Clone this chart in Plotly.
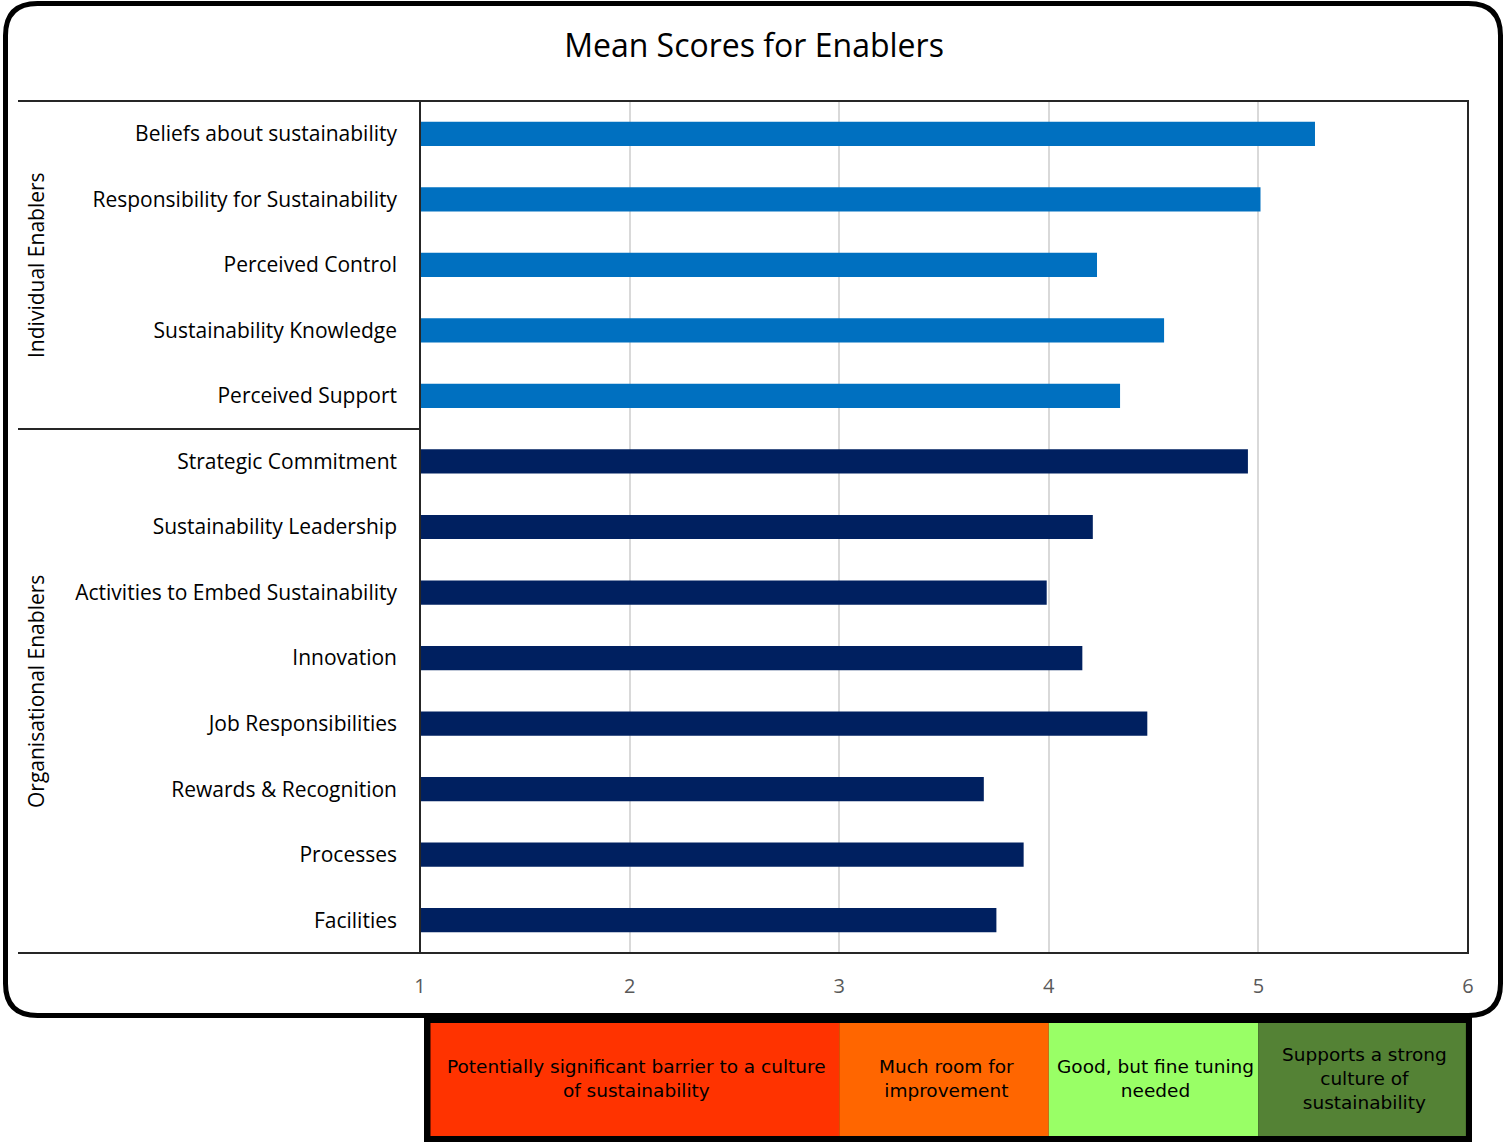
import plotly.graph_objects as go

# ---------------- data ----------------
categories = [
    "Beliefs about sustainability",
    "Responsibility for Sustainability",
    "Perceived Control",
    "Sustainability Knowledge",
    "Perceived Support",
    "Strategic Commitment",
    "Sustainability Leadership",
    "Activities to Embed Sustainability",
    "Innovation",
    "Job Responsibilities",
    "Rewards & Recognition",
    "Processes",
    "Facilities",
]
scores = [5.27, 5.01, 4.23, 4.55, 4.34, 4.95, 4.21, 3.99, 4.16, 4.47, 3.69, 3.88, 3.75]
groups = ["Individual Enablers"] * 5 + ["Organisational Enablers"] * 8
group_names = ["Individual Enablers", "Organisational Enablers"]
group_colors = {"Individual Enablers": "#0070C0", "Organisational Enablers": "#002060"}

x_ticks = [1, 2, 3, 4, 5, 6]

band_starts = [1, 3, 4, 5]
band_ends = [3, 4, 5, 6]
band_labels = [
    "Potentially significant barrier to a culture<br>of sustainability",
    "Much room for<br>improvement",
    "Good, but fine tuning<br>needed",
    "Supports a strong<br>culture of<br>sustainability",
]
band_colors = ["#FF3300", "#FF6600", "#99FF66", "#548235"]

# ---------------- layout geometry ----------------
W, H = 1504, 1143
L, R, T, B = 420, 1468, 101, 953
PW, PH = R - L, B - T


def px(xp):
    return (xp - L) / PW


def py(yp):
    return (B - yp) / PH


FONT = "Open Sans"

fig = go.Figure()
for g in group_names:
    idx = [i for i, gg in enumerate(groups) if gg == g]
    fig.add_trace(go.Bar(
        y=[categories[i] for i in idx],
        x=[scores[i] - 1 for i in idx],
        base=1,
        orientation="h",
        marker=dict(color=group_colors[g], line=dict(width=0)),
        name=g,
        showlegend=False,
        hoverinfo="skip",
    ))

shapes = []
annotations = []

# outer rounded border
x0, y0, x1, y1, r = 5.5, 3.5, 1500.5, 1015.5, 32
path = (
    f"M {px(x0 + r)},{py(y0)} L {px(x1 - r)},{py(y0)} "
    f"Q {px(x1)},{py(y0)} {px(x1)},{py(y0 + r)} "
    f"L {px(x1)},{py(y1 - r)} Q {px(x1)},{py(y1)} {px(x1 - r)},{py(y1)} "
    f"L {px(x0 + r)},{py(y1)} Q {px(x0)},{py(y1)} {px(x0)},{py(y1 - r)} "
    f"L {px(x0)},{py(y0 + r)} Q {px(x0)},{py(y0)} {px(x0 + r)},{py(y0)} Z"
)
shapes.append(dict(type="path", xref="paper", yref="paper", path=path,
                   line=dict(color="black", width=5), layer="below"))

# plot frame
shapes.append(dict(type="rect", xref="paper", yref="paper", x0=0, y0=0, x1=1, y1=1,
                   line=dict(color="#262626", width=2), layer="above"))

# group divider lines on the left
for yp in [T, 429, B]:
    shapes.append(dict(type="line", xref="paper", yref="paper",
                       x0=px(18), x1=0, y0=py(yp), y1=py(yp),
                       line=dict(color="#262626", width=2)))

# group labels
annotations.append(dict(text="Individual Enablers", xref="paper", yref="paper",
                        x=px(36), y=py(265), textangle=-90, showarrow=False,
                        font=dict(family=FONT, size=21, color="black"),
                        xanchor="center", yanchor="middle"))
annotations.append(dict(text="Organisational Enablers", xref="paper", yref="paper",
                        x=px(36), y=py(692), textangle=-90, showarrow=False,
                        font=dict(family=FONT, size=21, color="black"),
                        xanchor="center", yanchor="middle"))

# legend band
lb_y0, lb_y1 = 1023, 1136
shapes.append(dict(type="rect", xref="paper", yref="paper",
                   x0=px(427), x1=px(1469), y0=py(1139), y1=py(1020),
                   line=dict(color="black", width=6), fillcolor="black", layer="above"))
for s, e, c, lab in zip(band_starts, band_ends, band_colors, band_labels):
    bx0 = s + (0.05 if s == 1 else 0)
    bx1 = e - (0.01 if e == 6 else 0)
    shapes.append(dict(type="rect", xref="x", yref="paper",
                       x0=bx0, x1=bx1,
                       y0=py(lb_y1), y1=py(lb_y0),
                       line=dict(width=0), fillcolor=c, layer="above"))
    annotations.append(dict(text=lab, xref="x", yref="paper",
                            x=(bx0 + bx1) / 2 + 0.01, y=py((lb_y0 + lb_y1) / 2 - 1),
                            showarrow=False,
                            font=dict(family="DejaVu Sans", size=18.5, color="black"),
                            xanchor="center", yanchor="middle", align="center"))

fig.update_layout(
    width=W, height=H,
    margin=dict(l=L, r=W - R, t=T, b=H - B),
    paper_bgcolor="white", plot_bgcolor="white",
    title=dict(text="Mean Scores for Enablers", x=754 / W, xref="container",
               y=1 - 46 / H, yref="container",
               yanchor="middle", xanchor="center",
               font=dict(family=FONT, size=32, color="black")),
    bargap=0.63,
    xaxis=dict(range=[1, 6], tickvals=x_ticks, ticktext=[str(t) for t in x_ticks],
               showgrid=True, gridcolor="#D9D9D9", gridwidth=2, zeroline=False,
               showline=False, ticks="", ticklabelstandoff=19,
               tickfont=dict(family=FONT, size=20, color="#595959")),
    yaxis=dict(categoryorder="array", categoryarray=categories, autorange="reversed",
               showgrid=False, zeroline=False, showline=False, ticks="",
               ticklabelstandoff=22,
               tickfont=dict(family=FONT, size=21, color="black")),
    shapes=shapes,
    annotations=annotations,
)

fig.write_html("out.html")
